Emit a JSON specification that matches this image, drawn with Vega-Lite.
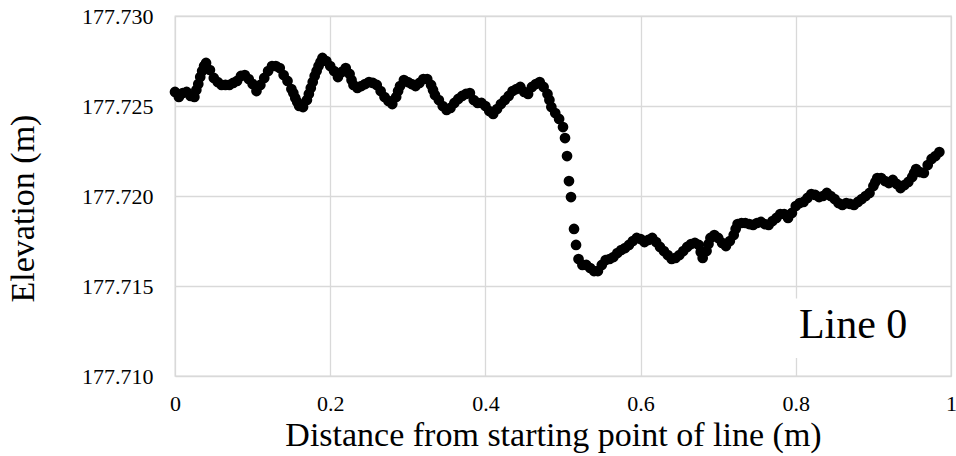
{
  "$schema": "https://vega.github.io/schema/vega-lite/v6.json",
  "width": 776,
  "height": 360,
  "autosize": {"type": "none"},
  "padding": {"left": 175, "top": 16, "right": 5, "bottom": 80},
  "background": "white",
  "config": {
    "view": {"stroke": "#d9d9d9", "strokeWidth": 1.3},
    "axis": {
      "labelFont": "Liberation Serif",
      "titleFont": "Liberation Serif",
      "labelColor": "black",
      "titleColor": "black",
      "titleFontWeight": "normal",
      "gridColor": "#d9d9d9",
      "gridWidth": 1.3,
      "domain": false,
      "ticks": false
    }
  },
  "datasets": {
    "profile": [
      {"d":0,"e":177.72578},{"d":0.005,"e":177.7255},{"d":0.01,"e":177.72572},{"d":0.015,"e":177.72578},{"d":0.02,"e":177.72556},
      {"d":0.025,"e":177.7255},{"d":0.0275,"e":177.72589},{"d":0.03,"e":177.72622},{"d":0.0325,"e":177.72661},{"d":0.035,"e":177.72694},{"d":0.0375,"e":177.72722},{"d":0.04,"e":177.72739},{"d":0.045,"e":177.727},
      {"d":0.05,"e":177.72656},{"d":0.055,"e":177.72633},{"d":0.06,"e":177.72617},{"d":0.065,"e":177.72617},{"d":0.07,"e":177.72617},
      {"d":0.075,"e":177.72628},{"d":0.08,"e":177.72639},{"d":0.085,"e":177.72667},{"d":0.09,"e":177.72672},{"d":0.095,"e":177.7265},
      {"d":0.1,"e":177.72622},{"d":0.105,"e":177.72583},{"d":0.11,"e":177.72617},{"d":0.115,"e":177.72656},{"d":0.12,"e":177.72694},
      {"d":0.125,"e":177.72722},{"d":0.13,"e":177.72722},{"d":0.135,"e":177.72711},{"d":0.14,"e":177.72672},{"d":0.145,"e":177.72639},
      {"d":0.15,"e":177.72594},{"d":0.1525,"e":177.72572},{"d":0.155,"e":177.72544},{"d":0.1575,"e":177.72522},{"d":0.16,"e":177.725},{"d":0.165,"e":177.72494},{"d":0.17,"e":177.72533},
      {"d":0.1725,"e":177.72567},{"d":0.175,"e":177.726},{"d":0.1775,"e":177.72633},{"d":0.18,"e":177.72667},{"d":0.1825,"e":177.72694},{"d":0.185,"e":177.72722},{"d":0.1875,"e":177.72744},{"d":0.19,"e":177.72767},{"d":0.195,"e":177.7275},
      {"d":0.2,"e":177.72722},{"d":0.205,"e":177.72694},{"d":0.21,"e":177.72661},{"d":0.215,"e":177.72689},{"d":0.22,"e":177.72711},
      {"d":0.225,"e":177.72678},{"d":0.2275,"e":177.72644},{"d":0.23,"e":177.72617},{"d":0.235,"e":177.726},{"d":0.24,"e":177.72611},{"d":0.245,"e":177.72622},
      {"d":0.25,"e":177.72633},{"d":0.255,"e":177.72628},{"d":0.26,"e":177.72617},{"d":0.265,"e":177.72583},{"d":0.27,"e":177.7255},
      {"d":0.275,"e":177.72528},{"d":0.28,"e":177.72511},{"d":0.285,"e":177.7255},{"d":0.2875,"e":177.72583},{"d":0.29,"e":177.72611},{"d":0.295,"e":177.72644},
      {"d":0.3,"e":177.72633},{"d":0.305,"e":177.72622},{"d":0.31,"e":177.72611},{"d":0.315,"e":177.72628},{"d":0.32,"e":177.7265},
      {"d":0.325,"e":177.7265},{"d":0.33,"e":177.72617},{"d":0.3325,"e":177.72589},{"d":0.335,"e":177.72561},{"d":0.34,"e":177.72533},{"d":0.345,"e":177.725},
      {"d":0.35,"e":177.72478},{"d":0.355,"e":177.72489},{"d":0.36,"e":177.72517},{"d":0.365,"e":177.72539},{"d":0.37,"e":177.72556},
      {"d":0.375,"e":177.72567},{"d":0.38,"e":177.72572},{"d":0.385,"e":177.72533},{"d":0.39,"e":177.72517},{"d":0.395,"e":177.72517},
      {"d":0.4,"e":177.725},{"d":0.405,"e":177.72472},{"d":0.41,"e":177.72456},{"d":0.415,"e":177.72483},{"d":0.42,"e":177.72511},
      {"d":0.425,"e":177.72533},{"d":0.43,"e":177.72556},{"d":0.435,"e":177.72583},{"d":0.44,"e":177.72594},{"d":0.445,"e":177.72606},
      {"d":0.45,"e":177.72578},{"d":0.455,"e":177.72567},{"d":0.46,"e":177.72606},{"d":0.465,"e":177.72622},{"d":0.47,"e":177.72633},
      {"d":0.475,"e":177.72606},{"d":0.48,"e":177.72567},{"d":0.4825,"e":177.72533},{"d":0.485,"e":177.72494},{"d":0.49,"e":177.72461},{"d":0.495,"e":177.72428},
      {"d":0.5,"e":177.72383},{"d":0.5026,"e":177.72322},{"d":0.5052,"e":177.72222},{"d":0.5077,"e":177.72083},{"d":0.5103,"e":177.71994},
      {"d":0.5142,"e":177.71817},{"d":0.5168,"e":177.71728},
      {"d":0.52,"e":177.7165},{"d":0.525,"e":177.71617},{"d":0.53,"e":177.71617},{"d":0.535,"e":177.716},{"d":0.54,"e":177.71583},
      {"d":0.545,"e":177.71583},{"d":0.55,"e":177.71617},{"d":0.555,"e":177.71644},{"d":0.56,"e":177.7165},{"d":0.565,"e":177.71661},
      {"d":0.57,"e":177.71683},{"d":0.575,"e":177.717},{"d":0.58,"e":177.71711},{"d":0.585,"e":177.71728},{"d":0.59,"e":177.7175},
      {"d":0.595,"e":177.71767},{"d":0.6,"e":177.71761},{"d":0.605,"e":177.71744},{"d":0.61,"e":177.71756},{"d":0.615,"e":177.71767},
      {"d":0.62,"e":177.71744},{"d":0.625,"e":177.71717},{"d":0.63,"e":177.71694},{"d":0.635,"e":177.71672},{"d":0.64,"e":177.7165},
      {"d":0.645,"e":177.71656},{"d":0.65,"e":177.71672},{"d":0.655,"e":177.71694},{"d":0.66,"e":177.71717},{"d":0.665,"e":177.71733},
      {"d":0.67,"e":177.71739},{"d":0.675,"e":177.71728},{"d":0.6775,"e":177.71689},{"d":0.68,"e":177.71656},{"d":0.685,"e":177.71694},{"d":0.6875,"e":177.71733},{"d":0.69,"e":177.71767},
      {"d":0.695,"e":177.71783},{"d":0.7,"e":177.71767},{"d":0.705,"e":177.71739},{"d":0.71,"e":177.71722},{"d":0.715,"e":177.7175},
      {"d":0.72,"e":177.71783},{"d":0.7225,"e":177.71817},{"d":0.725,"e":177.71844},{"d":0.73,"e":177.7185},{"d":0.735,"e":177.7185},{"d":0.74,"e":177.71844},
      {"d":0.745,"e":177.71839},{"d":0.75,"e":177.7185},{"d":0.755,"e":177.71856},{"d":0.76,"e":177.71844},{"d":0.765,"e":177.71839},
      {"d":0.77,"e":177.71861},{"d":0.775,"e":177.71878},{"d":0.78,"e":177.719},{"d":0.785,"e":177.719},{"d":0.79,"e":177.71878},
      {"d":0.795,"e":177.71906},{"d":0.8,"e":177.71944},{"d":0.805,"e":177.71961},{"d":0.81,"e":177.71967},{"d":0.815,"e":177.71989},
      {"d":0.82,"e":177.72011},{"d":0.825,"e":177.72006},{"d":0.83,"e":177.71994},{"d":0.835,"e":177.72},{"d":0.84,"e":177.72017},
      {"d":0.845,"e":177.72},{"d":0.85,"e":177.71983},{"d":0.855,"e":177.71961},{"d":0.86,"e":177.7195},{"d":0.865,"e":177.71961},
      {"d":0.87,"e":177.71956},{"d":0.875,"e":177.7195},{"d":0.88,"e":177.71967},{"d":0.885,"e":177.71983},{"d":0.89,"e":177.72},
      {"d":0.895,"e":177.72017},{"d":0.9,"e":177.72056},{"d":0.9025,"e":177.72078},{"d":0.905,"e":177.721},{"d":0.91,"e":177.721},{"d":0.915,"e":177.72083},
      {"d":0.92,"e":177.72072},{"d":0.925,"e":177.72089},{"d":0.93,"e":177.72067},{"d":0.935,"e":177.72044},{"d":0.94,"e":177.72061},
      {"d":0.945,"e":177.72078},{"d":0.95,"e":177.72106},{"d":0.9525,"e":177.72128},{"d":0.955,"e":177.7215},{"d":0.96,"e":177.72133},{"d":0.965,"e":177.72128},
      {"d":0.97,"e":177.72172},{"d":0.975,"e":177.72206},{"d":0.98,"e":177.72222},{"d":0.985,"e":177.72244}
    ],
    "note": [
      {"x1":0.797,"x2":0.99,"y1":177.711,"y2":177.7143,"tx":0.804,"ty":177.71211,"label":"Line 0"}
    ]
  },
  "layer": [
    {
      "data": {"name": "profile"},
      "mark": {"type": "point", "filled": true, "color": "black", "opacity": 1, "size": 115},
      "encoding": {
        "x": {
          "field": "d", "type": "quantitative",
          "scale": {"domain": [0, 1], "nice": false, "zero": false},
          "axis": {
            "title": "Distance from starting point of line (m)",
            "values": [0, 0.2, 0.4, 0.6, 0.8, 1],
            "format": ".1~f",
            "labelFontSize": 22,
            "labelPadding": 17,
            "titleFontSize": 34,
            "titlePadding": 4,
            "titleX": 378,
            "labelFlush": false
          }
        },
        "y": {
          "field": "e", "type": "quantitative",
          "scale": {"domain": [177.71, 177.73], "nice": false, "zero": false},
          "axis": {
            "title": "Elevation (m)",
            "values": [177.71, 177.715, 177.72, 177.725, 177.73],
            "format": ".3f",
            "labelFontSize": 22,
            "labelPadding": 22,
            "titleFontSize": 34,
            "titlePadding": 41,
            "titleY": 192
          }
        }
      }
    },
    {
      "data": {"name": "note"},
      "mark": {"type": "rect", "fill": "white", "stroke": null},
      "encoding": {
        "x": {"field": "x1", "type": "quantitative"},
        "x2": {"field": "x2"},
        "y": {"field": "y1", "type": "quantitative"},
        "y2": {"field": "y2"}
      }
    },
    {
      "data": {"name": "note"},
      "mark": {"type": "text", "font": "Liberation Serif", "fontSize": 42, "align": "left", "baseline": "alphabetic", "color": "black"},
      "encoding": {
        "x": {"field": "tx", "type": "quantitative"},
        "y": {"field": "ty", "type": "quantitative"},
        "text": {"field": "label"}
      }
    }
  ]
}
